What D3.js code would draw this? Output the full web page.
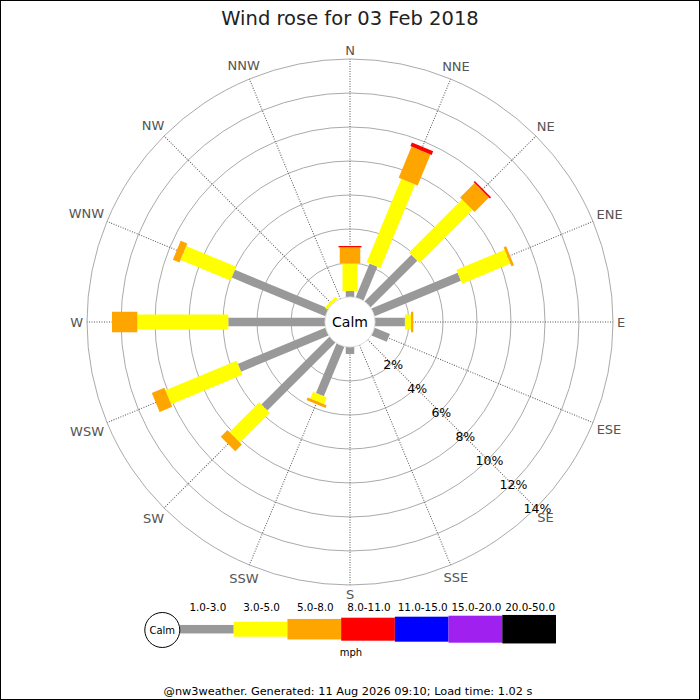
<!DOCTYPE html>
<html>
<head>
<meta charset="utf-8">
<script src="https://cdn.jsdelivr.net/npm/d3@7"></script>
<style>
    body { margin: 0; background: #ffffff; }
    text { font-family: 'DejaVu Sans', sans-serif; }
</style>
</head>
<body>
<script>

// compass points, clockwise from north
var directions = ['N', 'NNE', 'NE', 'ENE', 'E', 'ESE', 'SE', 'SSE',
                  'S', 'SSW', 'SW', 'WSW', 'W', 'WNW', 'NW', 'NNW'];

// speed classes (mph)
var speedBins = ['1.0-3.0', '3.0-5.0', '5.0-8.0', '8.0-11.0',
                 '11.0-15.0', '15.0-20.0', '20.0-50.0'];

// frequency (%) per direction for each speed class
var bin1to3   = [0.35, 2.15, 3.88, 5.49, 1.76, 0.97, 0, 0, 0.41, 3.16, 5.65, 5.57, 5.69, 5.96, 0, 0];
var bin3to5   = [1.63, 5.32, 4.41, 3.07, 0.36, 0, 0, 0, 0, 0.42, 2.47, 4.53, 5.35, 3.18, 0.18, 0];
var bin5to8   = [0.94, 1.98, 1.20, 0.16, 0.13, 0, 0, 0, 0, 0.17, 0.56, 0.80, 1.49, 0.42, 0, 0];
var bin8to11  = [0.08, 0.23, 0.10, 0, 0, 0, 0, 0, 0, 0, 0, 0, 0, 0, 0, 0];
var bin11to15 = [0, 0, 0, 0, 0, 0, 0, 0, 0, 0, 0, 0, 0, 0, 0, 0];
var bin15to20 = [0, 0, 0, 0, 0, 0, 0, 0, 0, 0, 0, 0, 0, 0, 0, 0];
var bin20to50 = [0, 0, 0, 0, 0, 0, 0, 0, 0, 0, 0, 0, 0, 0, 0, 0];

var ringTicks = [2, 4, 6, 8, 10, 12, 14];

var titleText = 'Wind rose for 03 Feb 2018';
var footerText = '@nw3weather. Generated: 11 Aug 2026 09:10; Load time: 1.02 s';

// styling
var binColors = ['#999999', '#ffff00', '#ffa500', '#ff0000', '#0000ff', '#a020f0', '#000000'];
var binWidths = [8.5, 15, 20.5, 23, 25, 27, 28.5];

var width = 700,
    height = 700,
    cx = 350,
    cy = 322,
    calmRadius = 25,
    outerRadius = 263;

var bins = [bin1to3, bin3to5, bin5to8, bin8to11, bin11to15, bin15to20, bin20to50];

var rScale = d3.scaleLinear()
    .domain([0, d3.max(ringTicks)])
    .range([calmRadius, outerRadius]);

var angle = d3.scaleLinear()
    .domain([0, directions.length])
    .range([0, 360]);

var svg = d3.select('body')
    .append('svg')
    .attr('width', width)
    .attr('height', height);

svg.append('rect')
    .attr('width', width)
    .attr('height', height)
    .attr('fill', '#ffffff');

var rose = svg.append('g')
    .attr('transform', 'translate(' + cx + ',' + cy + ')');

// rings
rose.selectAll('circle.ring')
    .data(ringTicks)
    .enter()
    .append('circle')
    .attr('class', 'ring')
    .attr('r', function(d) { return rScale(d); })
    .attr('fill', 'none')
    .attr('stroke', '#aaaaaa')
    .attr('stroke-width', 1);

// radial dotted lines
rose.selectAll('line.spoke')
    .data(directions)
    .enter()
    .append('line')
    .attr('class', 'spoke')
    .attr('x1', 0)
    .attr('y1', 0)
    .attr('x2', 0)
    .attr('y2', -outerRadius)
    .attr('transform', function(d, i) { return 'rotate(' + angle(i) + ')'; })
    .attr('stroke', '#555555')
    .attr('stroke-width', 1)
    .attr('stroke-dasharray', '1,1.5');

// stacked bars, one rotated rect per direction and speed class
var segments = [];
directions.forEach(function(dir, i) {
    var cum = 0;
    bins.forEach(function(bin, b) {
        var v = bin[i];
        if (v > 0)
            segments.push({ dir: i, bin: b, from: cum, to: cum + v });
        cum += v;
    });
});

rose.selectAll('rect.seg')
    .data(segments)
    .enter()
    .append('rect')
    .attr('class', 'seg')
    .attr('transform', function(d) { return 'rotate(' + angle(d.dir) + ')'; })
    .attr('x', function(d) { return -binWidths[d.bin] / 2; })
    .attr('width', function(d) { return binWidths[d.bin]; })
    .attr('y', function(d) { return -rScale(d.to); })
    .attr('height', function(d) { return rScale(d.to) - rScale(d.from); })
    .attr('fill', function(d) { return binColors[d.bin]; });

// calm circle
rose.append('circle')
    .attr('r', calmRadius)
    .attr('fill', '#ffffff')
    .attr('stroke', '#dddddd')
    .attr('stroke-width', 1);

rose.append('text')
    .attr('text-anchor', 'middle')
    .attr('dy', '0.36em')
    .attr('font-size', '14px')
    .attr('fill', '#000000')
    .text('Calm');

// percentage labels along SE
var labAngle = angle(directions.indexOf('SE')) * Math.PI / 180;
rose.selectAll('text.pct')
    .data(ringTicks)
    .enter()
    .append('text')
    .attr('class', 'pct')
    .attr('x', function(d) { return rScale(d) * Math.sin(labAngle) + 1.5; })
    .attr('y', function(d) { return -rScale(d) * Math.cos(labAngle) + 1; })
    .attr('dy', '0.36em')
    .attr('text-anchor', 'middle')
    .attr('font-size', '12.5px')
    .attr('fill', '#000000')
    .text(function(d) { return d + '%'; });

// compass labels, pushed out by their own size
rose.selectAll('text.dir')
    .data(directions)
    .enter()
    .append('text')
    .attr('class', 'dir')
    .attr('text-anchor', 'middle')
    .attr('dy', '0.36em')
    .attr('font-size', '13px')
    .attr('fill', '#555555')
    .text(function(d) { return d; })
    .each(function(d, i) {
        var a = angle(i) * Math.PI / 180,
            hw = this.getComputedTextLength() / 2,
            hh = 5,
            r = outerRadius + 4 + hw * Math.abs(Math.sin(a)) + hh * Math.abs(Math.cos(a));
        d3.select(this)
            .attr('x', r * Math.sin(a))
            .attr('y', -r * Math.cos(a));
    });

// title
svg.append('text')
    .attr('x', width / 2)
    .attr('y', 25)
    .attr('text-anchor', 'middle')
    .attr('font-size', '19.5px')
    .attr('fill', '#222222')
    .text(titleText);

// legend
var legX = d3.scaleLinear()
    .domain([0, speedBins.length])
    .range([180, 556]);
var legY = 629.2;

var legend = svg.append('g');

legend.selectAll('rect')
    .data(speedBins)
    .enter()
    .append('rect')
    .attr('x', function(d, i) { return legX(i); })
    .attr('width', function(d, i) { return legX(i + 1) - legX(i); })
    .attr('y', function(d, i) { return legY - binWidths[i] / 2; })
    .attr('height', function(d, i) { return binWidths[i]; })
    .attr('fill', function(d, i) { return binColors[i]; });

legend.selectAll('text.bin')
    .data(speedBins)
    .enter()
    .append('text')
    .attr('class', 'bin')
    .attr('x', function(d, i) { return (legX(i) + legX(i + 1)) / 2 + 1; })
    .attr('y', 610.5)
    .attr('text-anchor', 'middle')
    .attr('font-size', '10.4px')
    .attr('fill', '#000000')
    .text(function(d) { return d; });

legend.append('circle')
    .attr('cx', 162.3)
    .attr('cy', 630)
    .attr('r', 17.5)
    .attr('fill', '#ffffff')
    .attr('stroke', '#000000')
    .attr('stroke-width', 1);

legend.append('text')
    .attr('x', 162.3)
    .attr('y', 630)
    .attr('dy', '0.36em')
    .attr('text-anchor', 'middle')
    .attr('font-size', '10px')
    .attr('fill', '#000000')
    .text('Calm');

legend.append('text')
    .attr('x', 351)
    .attr('y', 656)
    .attr('text-anchor', 'middle')
    .attr('font-size', '10px')
    .attr('fill', '#000000')
    .text('mph');

// footer
svg.append('text')
    .attr('x', 348)
    .attr('y', 695)
    .attr('text-anchor', 'middle')
    .attr('font-size', '11.3px')
    .attr('fill', '#000000')
    .text(footerText);

// frame
svg.append('rect')
    .attr('x', 0.5)
    .attr('y', 0.5)
    .attr('width', width - 1)
    .attr('height', height - 1)
    .attr('fill', 'none')
    .attr('stroke', '#000000')
    .attr('stroke-width', 1);

</script>
</body>
</html>
